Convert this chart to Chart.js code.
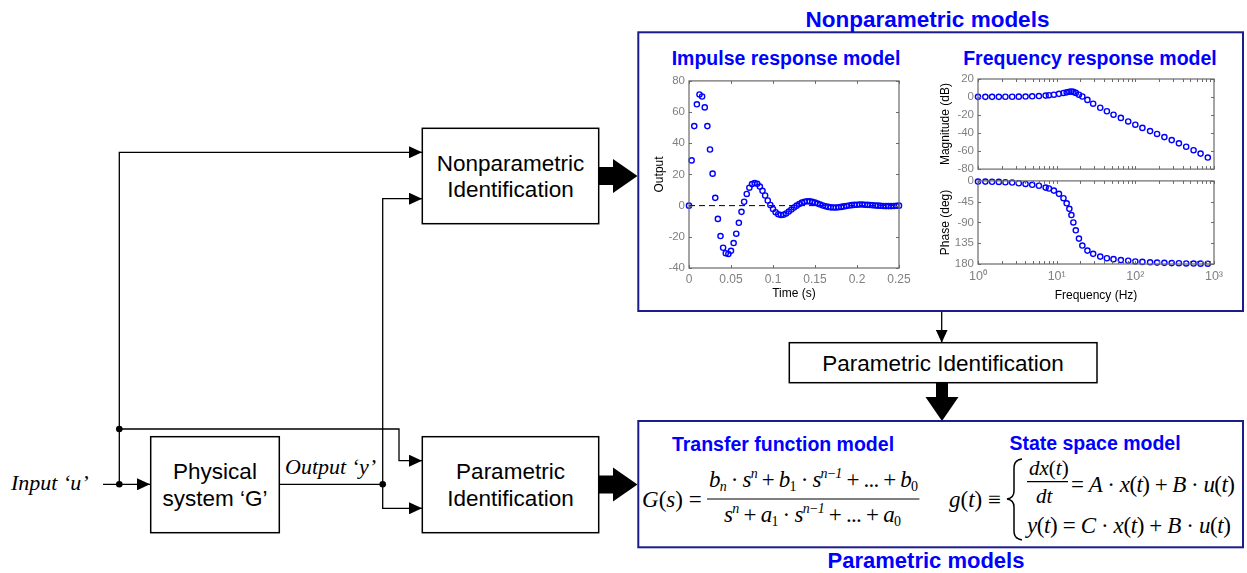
<!DOCTYPE html>
<html>
<head>
<meta charset="utf-8">
<script src="https://cdn.jsdelivr.net/npm/chart.js@4.4.1/dist/chart.umd.min.js"></script>
<style>
  html, body { margin: 0; padding: 0; background: #fff; }
  #stage { position: relative; width: 1247px; height: 573px; overflow: hidden; }
  #stage svg { position: absolute; left: 0; top: 0; }
  #stage canvas { position: absolute; }
  .sans { font-family: "Liberation Sans", Arial, sans-serif; }
  .serif { font-family: "Liberation Serif", "Times New Roman", serif; }
  .head { font-family: "Liberation Sans", Arial, sans-serif; font-weight: bold; fill: #0000ff; }
  .it { font-style: italic; }
</style>
</head>
<body>
<div id="stage">
<svg width="1247" height="573" viewBox="0 0 1247 573">
  <defs>
    <marker id="arrow" markerUnits="userSpaceOnUse" markerWidth="14" markerHeight="12" refX="13" refY="6" orient="auto">
      <path d="M0,0 L13,6 L0,12 z" fill="#000"/>
    </marker>
  </defs>

  <!-- signal lines -->
  <g stroke="#000" stroke-width="1.3" fill="none">
    <polyline points="103,484.3 150,484.3" marker-end="url(#arrow)"/>
    <polyline points="119.3,484.3 119.3,152.3 422,152.3" marker-end="url(#arrow)"/>
    <polyline points="119.3,429 399,429 399,460.7 422,460.7" marker-end="url(#arrow)"/>
    <line x1="279.3" y1="484.3" x2="382.7" y2="484.3"/>
    <polyline points="382.7,484.3 382.7,198.7 422,198.7" marker-end="url(#arrow)"/>
    <polyline points="382.7,484.3 382.7,508.3 422,508.3" marker-end="url(#arrow)"/>
    <polyline points="941.7,311 941.7,342.7" marker-end="url(#arrow)"/>
  </g>
  <g fill="#000">
    <circle cx="119.3" cy="484.3" r="3.3"/>
    <circle cx="119.3" cy="429" r="3.3"/>
    <circle cx="382.7" cy="484.3" r="3.3"/>
  </g>

  <!-- blocks -->
  <g stroke="#000" stroke-width="1.5" fill="#fff">
    <rect x="150.7" y="436.7" width="128.6" height="96"/>
    <rect x="422.3" y="128.3" width="176.4" height="95.4"/>
    <rect x="422.3" y="436.7" width="176.4" height="96"/>
    <rect x="789.3" y="342.7" width="307.7" height="40"/>
  </g>

  <!-- thick flow arrows -->
  <g fill="#000">
    <polygon points="598.7,167 613,167 613,159 637.5,176 613,193 613,185 598.7,185"/>
    <polygon points="598.7,475.5 613,475.5 613,467.5 637.5,484.5 613,501.5 613,493.5 598.7,493.5"/>
    <polygon points="936,383 948,383 948,397 958.5,397 942,421 925.5,397 936,397"/>
  </g>

  <!-- model panels -->
  <g stroke="#1c1c8c" stroke-width="2" fill="none">
    <rect x="638.3" y="32.3" width="604.7" height="278.7"/>
    <rect x="638.3" y="421" width="604.7" height="126.3"/>
  </g>

  <!-- block labels -->
  <g class="sans" font-size="22.5" fill="#000" text-anchor="middle">
    <text x="510.5" y="170.7">Nonparametric</text>
    <text x="510.5" y="197.3">Identification</text>
    <text x="510.5" y="479.3">Parametric</text>
    <text x="510.5" y="506">Identification</text>
    <text x="215" y="479.3">Physical</text>
    <text x="215" y="506">system ‘G’</text>
    <text x="943" y="371">Parametric Identification</text>
  </g>
  <g class="serif it" font-size="22" fill="#000">
    <text x="11" y="490">Input ‘u’</text>
    <text x="285" y="474">Output ‘y’</text>
  </g>

  <!-- headings -->
  <g class="head" text-anchor="middle">
    <text x="927.5" y="26.7" font-size="22.5">Nonparametric models</text>
    <text x="926" y="567.5" font-size="22">Parametric models</text>
    <text x="786" y="65" font-size="19.5">Impulse response model</text>
    <text x="1090" y="65" font-size="19.5">Frequency response model</text>
    <text x="783" y="451" font-size="19.5">Transfer function model</text>
    <text x="1095" y="449.5" font-size="19.5">State space model</text>
  </g>

  <!-- transfer function -->
  <g class="serif" font-size="23" fill="#000">
    <text x="642" y="507"><tspan class="it">G</tspan>(<tspan class="it">s</tspan>) =</text>
    <text x="709" y="487" textLength="209" lengthAdjust="spacing"><tspan class="it">b</tspan><tspan class="it" font-size="14" dy="4">n</tspan><tspan dy="-4"> · </tspan><tspan class="it">s</tspan><tspan class="it" font-size="14" dy="-9">n</tspan><tspan dy="9"> + </tspan><tspan class="it">b</tspan><tspan font-size="14" dy="4">1</tspan><tspan dy="-4"> · </tspan><tspan class="it">s</tspan><tspan class="it" font-size="14" dy="-9">n−1</tspan><tspan dy="9"> + ... + </tspan><tspan class="it">b</tspan><tspan font-size="14" dy="4">0</tspan></text>
    <text x="724" y="522" textLength="177" lengthAdjust="spacing"><tspan class="it">s</tspan><tspan class="it" font-size="14" dy="-9">n</tspan><tspan dy="9"> + </tspan><tspan class="it">a</tspan><tspan font-size="14" dy="4">1</tspan><tspan dy="-4"> · </tspan><tspan class="it">s</tspan><tspan class="it" font-size="14" dy="-9">n−1</tspan><tspan dy="9"> + ... + </tspan><tspan class="it">a</tspan><tspan font-size="14" dy="4">0</tspan></text>
  </g>
  <line x1="707" y1="499" x2="919.4" y2="499" stroke="#000" stroke-width="1.2"/>

  <!-- state space -->
  <g class="serif" font-size="23" fill="#000">
    <text x="949" y="507"><tspan class="it">g</tspan>(<tspan class="it">t</tspan>) ≡</text>
    <text x="1029" y="474.5" font-size="21"><tspan class="it">dx</tspan>(<tspan class="it">t</tspan>)</text>
    <text x="1036" y="503" font-size="21" class="it">dt</text>
    <text x="1071" y="492" textLength="164" lengthAdjust="spacing">= <tspan class="it">A</tspan> · <tspan class="it">x</tspan>(<tspan class="it">t</tspan>) + <tspan class="it">B</tspan> · <tspan class="it">u</tspan>(<tspan class="it">t</tspan>)</text>
    <text x="1027" y="533" textLength="204" lengthAdjust="spacing"><tspan class="it">y</tspan>(<tspan class="it">t</tspan>) = <tspan class="it">C</tspan> · <tspan class="it">x</tspan>(<tspan class="it">t</tspan>) + <tspan class="it">B</tspan> · <tspan class="it">u</tspan>(<tspan class="it">t</tspan>)</text>
  </g>
  <line x1="1027" y1="481.7" x2="1068" y2="481.7" stroke="#000" stroke-width="1.2"/>
  <path d="M1022,459 Q1014,460 1014,468 L1014,491 Q1014,498 1007,499 Q1014,500 1014,507 L1014,531 Q1014,539 1022,540" stroke="#000" stroke-width="1.5" fill="none"/>
</svg>

<canvas id="impulse" width="275" height="235" style="left:640px;top:70px"></canvas>
<canvas id="mag" width="300" height="120" style="left:930px;top:60px"></canvas>
<canvas id="phase" width="300" height="135" style="left:930px;top:170px"></canvas>
</div>

<script>
// impulse response, sampled every 1/320 s
const sampleTime = 1 / 320;
const impulseOutput = [
  0, 29, 51, 65, 71.3, 70, 63, 51, 36, 20.5, 5,
  -8.5, -19.5, -27, -30.5, -31, -29, -24, -18, -11, -4,
  2.5, 7.5, 11.5, 13.8, 14.5, 14, 12.2, 9.5, 6.5, 3.3,
  0.4, -2.2, -4.2, -5.5, -6, -5.8, -5, -3.8, -2.5, -1.2,
  0, 1, 1.9, 2.5, 2.8, 2.7, 2.4, 1.9, 1.3, 0.7,
  0.1, -0.4, -0.8, -1.1, -1.2, -1.2, -1.0, -0.8, -0.5, -0.2,
  0.1, 0.3, 0.5, 0.6, 0.7, 0.7, 0.6, 0.5, 0.4, 0.2,
  0.1, 0, -0.1, -0.2, -0.3, -0.3, -0.3, -0.2, -0.1, 0
];
const timeTicks = [0, 0.05, 0.1, 0.15, 0.2, 0.25];
const timeTickLabels = ['0', '0.05', '0.1', '0.15', '0.2', '0.25'];
const outputTicks = [-40, -20, 0, 20, 40, 60, 80];

// frequency response
const freqHz = [
  1.00, 1.24, 1.51, 1.84, 2.23, 2.72, 3.30, 4.02, 4.89, 5.95,
  7.24, 7.98, 9.22, 10.7, 12.2, 13.4, 14.5, 15.4, 16.3, 17.5,
  19.2, 21.2, 24.6, 29.1, 35.8, 43.5, 52.8, 65.5, 81.2, 100,
  123, 154, 189, 234, 290, 358, 443, 550, 675, 834
];
const magnitudeDb = [
  0.2, 0.2, 0.2, 0.2, 0.3, 0.3, 0.4, 0.5, 0.8, 1.1,
  1.6, 2.0, 2.6, 3.5, 4.5, 5.2, 5.9, 6.1, 5.7, 4.6,
  2.6, 0.6, -3.2, -7.4, -11.9, -15.8, -19.6, -23.2, -27.1, -30.7,
  -34.3, -37.8, -41.0, -44.5, -47.8, -51.4, -55.2, -59.0, -62.8, -67.2
];
const phaseDeg = [
  -1.5, -1.5, -1.8, -2.2, -2.9, -3.6, -5.1, -6.6, -8.4, -10.5,
  -14.5, -16.5, -21, -28, -37.5, -48.5, -60.5, -74, -90, -107,
  -125, -140, -151, -158, -164, -167.5, -169.5, -171.5, -173, -174.5,
  -175.5, -176.3, -177, -177.5, -178, -178.4, -178.8, -179, -179.2, -179.4
];
const freqTicks = [
  1, 2, 3, 4, 5, 6, 7, 8, 9,
  10, 20, 30, 40, 50, 60, 70, 80, 90,
  100, 200, 300, 400, 500, 600, 700, 800, 900, 1000
];
const freqTickLabels = { 1: '10⁰', 10: '10¹', 100: '10²', 1000: '10³' };
const magTicks = [-80, -60, -40, -20, 0, 20];
const phaseTicks = [-180, -135, -90, -45, 0];
const phaseTickLabels = ['180', '135', '-90', '-45', '0'];

const markerBlue = '#0000ff';
const tickGrey = '#808080';
const sansFamily = '"Liberation Sans", Arial, sans-serif';

// axes box with inward tick marks on all four sides
const boxTicks = {
  id: 'boxTicks',
  afterDatasetsDraw(chart) {
    const { ctx, chartArea: a, scales } = chart;
    const len = 3;
    ctx.save();
    ctx.strokeStyle = '#6a6a6a';
    ctx.lineWidth = 1;
    ctx.beginPath();
    scales.x.ticks.forEach(t => {
      const px = Math.round(scales.x.getPixelForValue(t.value)) + 0.5;
      ctx.moveTo(px, a.bottom); ctx.lineTo(px, a.bottom - len);
      ctx.moveTo(px, a.top); ctx.lineTo(px, a.top + len);
    });
    scales.y.ticks.forEach(t => {
      const py = Math.round(scales.y.getPixelForValue(t.value)) + 0.5;
      ctx.moveTo(a.left, py); ctx.lineTo(a.left + len, py);
      ctx.moveTo(a.right, py); ctx.lineTo(a.right - len, py);
    });
    ctx.stroke();
    ctx.lineWidth = 1.2;
    ctx.strokeRect(a.left, a.top, a.right - a.left, a.bottom - a.top);
    ctx.restore();
  }
};

function baseOptions(padding) {
  return {
    responsive: false,
    animation: false,
    events: [],
    layout: { padding },
    plugins: { legend: { display: false }, tooltip: { enabled: false } }
  };
}

function markerSet(points) {
  return {
    data: points,
    showLine: false,
    pointStyle: 'circle',
    pointRadius: 2.6,
    pointBorderWidth: 1.4,
    pointBorderColor: markerBlue,
    pointBackgroundColor: 'rgba(0,0,0,0)',
    clip: false
  };
}

function yAxis(min, max, ticks, labels, title, width) {
  return {
    min, max,
    afterBuildTicks: s => { s.ticks = ticks.map(v => ({ value: v })); },
    afterFit: s => { s.width = width; },
    ticks: {
      color: tickGrey, font: { family: sansFamily, size: 11.5 }, padding: 4,
      callback: (v, i) => labels[i]
    },
    grid: { display: false, drawTicks: false },
    border: { display: false },
    title: {
      display: true, text: title, color: '#000',
      font: { family: sansFamily, size: 12 }, padding: { top: 4, bottom: 0 }
    }
  };
}

// Impulse response model
new Chart(document.getElementById('impulse'), {
  type: 'scatter',
  data: {
    datasets: [
      markerSet(impulseOutput.map((y, i) => ({ x: i * sampleTime, y }))),
      {
        type: 'line',
        data: [{ x: timeTicks[0], y: 0 }, { x: timeTicks[timeTicks.length - 1], y: 0 }],
        borderColor: '#000', borderWidth: 1, borderDash: [6, 4], pointRadius: 0
      }
    ]
  },
  options: {
    ...baseOptions({ left: 8, top: 7, right: 16, bottom: 0 }),
    scales: {
      x: {
        type: 'linear', min: 0, max: 0.25,
        afterBuildTicks: s => { s.ticks = timeTicks.map(v => ({ value: v })); },
        afterFit: s => { s.height = 37; },
        ticks: {
          color: tickGrey, font: { family: sansFamily, size: 12 }, padding: 4, maxRotation: 0,
          callback: (v, i) => timeTickLabels[i]
        },
        grid: { display: false, drawTicks: false },
        border: { display: false },
        title: {
          display: true, text: 'Time (s)', color: '#000',
          font: { family: sansFamily, size: 12 }, padding: { top: 0, bottom: 4 }
        }
      },
      y: yAxis(-40, 80, outputTicks, outputTicks.map(String), 'Output', 41)
    }
  },
  plugins: [boxTicks]
});

// Bode magnitude
new Chart(document.getElementById('mag'), {
  type: 'scatter',
  data: { datasets: [markerSet(freqHz.map((f, i) => ({ x: f, y: magnitudeDb[i] })))] },
  options: {
    ...baseOptions({ left: 4, top: 19, right: 16, bottom: 7 }),
    scales: {
      x: {
        type: 'logarithmic', min: 1, max: 1000,
        afterBuildTicks: s => { s.ticks = freqTicks.map(v => ({ value: v })); },
        afterFit: s => { s.height = 0; },
        ticks: { display: false },
        grid: { display: false, drawTicks: false },
        border: { display: false }
      },
      y: yAxis(-80, 20, magTicks, magTicks.map(String), 'Magnitude (dB)', 44)
    }
  },
  plugins: [boxTicks]
});

// Bode phase
new Chart(document.getElementById('phase'), {
  type: 'scatter',
  data: { datasets: [markerSet(freqHz.map((f, i) => ({ x: f, y: phaseDeg[i] })))] },
  options: {
    ...baseOptions({ left: 4, top: 10, right: 16, bottom: 0 }),
    scales: {
      x: {
        type: 'logarithmic', min: 1, max: 1000,
        afterBuildTicks: s => { s.ticks = freqTicks.map(v => ({ value: v })); },
        afterFit: s => { s.height = 41; },
        ticks: {
          color: tickGrey, font: { family: sansFamily, size: 12.5 }, padding: 5,
          autoSkip: false, maxRotation: 0,
          callback: v => freqTickLabels[v] || ''
        },
        grid: { display: false, drawTicks: false },
        border: { display: false },
        title: {
          display: true, text: 'Frequency (Hz)', color: '#000',
          font: { family: sansFamily, size: 12 }, padding: { top: 0, bottom: 2 }
        }
      },
      y: yAxis(-180, 0, phaseTicks, phaseTickLabels, 'Phase (deg)', 44)
    }
  },
  plugins: [boxTicks]
});
</script>
</body>
</html>
